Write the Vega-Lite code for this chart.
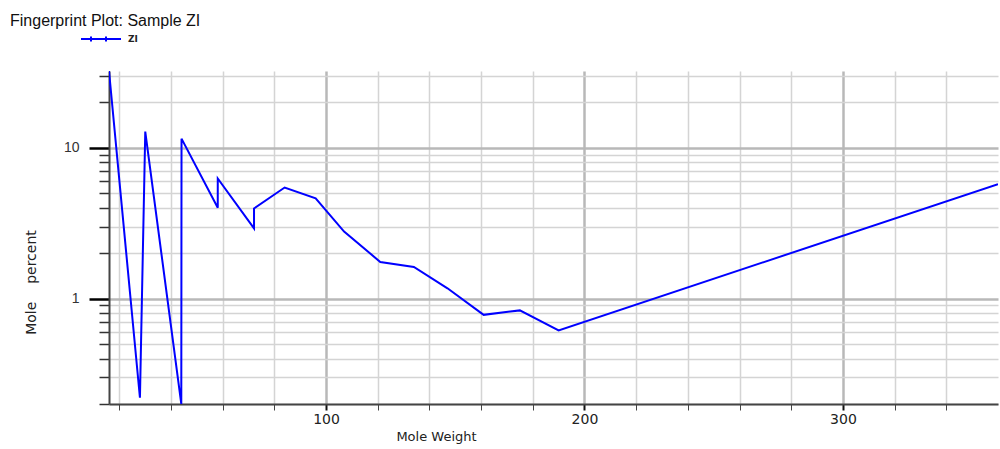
{
  "$schema": "https://vega.github.io/schema/vega-lite/v6.json",
  "autosize": {"type": "none"},
  "padding": {"left": 109, "top": 71, "right": 2, "bottom": 45},
  "width": 889,
  "height": 333,
  "background": "white",
  "title": {
    "text": "Fingerprint Plot: Sample ZI",
    "anchor": "start",
    "frame": "group",
    "orient": "top",
    "dx": -99,
    "dy": 24,
    "offset": 0,
    "baseline": "alphabetic",
    "font": "Liberation Sans",
    "fontSize": 16,
    "fontWeight": "normal",
    "color": "#111"
  },
  "data": {
    "values": [
      {"i": 1, "mw": 16.04, "pct": 32.3, "series": "ZI"},
      {"i": 2, "mw": 28.01, "pct": 0.22, "series": "ZI"},
      {"i": 3, "mw": 30.07, "pct": 12.8, "series": "ZI"},
      {"i": 4, "mw": 44.01, "pct": 0.2, "series": "ZI"},
      {"i": 5, "mw": 44.1, "pct": 11.5, "series": "ZI"},
      {"i": 6, "mw": 58.12, "pct": 4.0, "series": "ZI"},
      {"i": 7, "mw": 58.12, "pct": 6.26, "series": "ZI"},
      {"i": 8, "mw": 72.15, "pct": 2.92, "series": "ZI"},
      {"i": 9, "mw": 72.15, "pct": 3.96, "series": "ZI"},
      {"i": 10, "mw": 84, "pct": 5.45, "series": "ZI"},
      {"i": 11, "mw": 96, "pct": 4.62, "series": "ZI"},
      {"i": 12, "mw": 107, "pct": 2.78, "series": "ZI"},
      {"i": 13, "mw": 121, "pct": 1.75, "series": "ZI"},
      {"i": 14, "mw": 134, "pct": 1.62, "series": "ZI"},
      {"i": 15, "mw": 147, "pct": 1.17, "series": "ZI"},
      {"i": 16, "mw": 161, "pct": 0.78, "series": "ZI"},
      {"i": 17, "mw": 175, "pct": 0.835, "series": "ZI"},
      {"i": 18, "mw": 190, "pct": 0.615, "series": "ZI"},
      {"i": 19, "mw": 360, "pct": 5.74, "series": "ZI"}
    ]
  },
  "mark": {"type": "line", "strokeWidth": 2, "clip": true},
  "encoding": {
    "x": {
      "field": "mw",
      "type": "quantitative",
      "scale": {"domain": [16.04, 360], "nice": false, "zero": false},
      "axis": {
        "title": "Mole Weight",
        "titleX": 327,
        "titleY": 32,
        "titleAlign": "center",
        "titleBaseline": "middle",
        "titleFont": "DejaVu Sans",
        "titleFontSize": 13,
        "titleFontWeight": "normal",
        "titleColor": "#222",
        "values": [20, 40, 60, 80, 100, 120, 140, 160, 180, 200, 220, 240, 260, 280, 300, 320, 340],
        "labelExpr": "datum.value % 100 === 0 ? datum.value + '' : ''",
        "labelOverlap": false,
        "labelFlush": false,
        "labelFont": "DejaVu Sans",
        "labelFontSize": 14,
        "labelColor": "#222",
        "labelPadding": 2,
        "tickSize": 6,
        "tickColor": {"condition": {"test": "datum.value % 100 === 0", "value": "#111"}, "value": "#444"},
        "tickWidth": {"condition": {"test": "datum.value % 100 === 0", "value": 2}, "value": 1},
        "domainColor": "#444",
        "domainWidth": 2,
        "grid": true,
        "gridColor": {"condition": {"test": "datum.value % 100 === 0", "value": "#b8b8b8"}, "value": "#d4d4d4"},
        "gridWidth": {"condition": {"test": "datum.value % 100 === 0", "value": 2.5}, "value": 1.5}
      }
    },
    "y": {
      "field": "pct",
      "type": "quantitative",
      "scale": {"type": "log", "domain": [0.2, 32.3], "nice": false},
      "axis": {
        "title": "Mole\u00a0\u00a0\u00a0\u00a0percent",
        "titleX": -78,
        "titleY": 211,
        "titleAngle": 270,
        "titleAlign": "center",
        "titleBaseline": "middle",
        "titleFont": "DejaVu Sans",
        "titleFontSize": 14,
        "titleFontWeight": "normal",
        "titleColor": "#222",
        "values": [0.2, 0.3, 0.4, 0.5, 0.6, 0.7, 0.8, 0.9, 1, 2, 3, 4, 5, 6, 7, 8, 9, 10, 20, 30],
        "labelExpr": "datum.value === 1 || datum.value === 10 ? datum.value + '' : ''",
        "labelOverlap": false,
        "labelFlush": false,
        "labelFont": "Liberation Sans",
        "labelFontSize": 14,
        "labelColor": "#333",
        "labelPadding": 10,
        "tickSize": {"condition": {"test": "datum.value === 1 || datum.value === 10", "value": 20}, "value": 10},
        "tickColor": {"condition": {"test": "datum.value === 1 || datum.value === 10", "value": "#000"}, "value": "#333"},
        "tickWidth": {"condition": {"test": "datum.value === 1 || datum.value === 10", "value": 2.5}, "value": 1.5},
        "domainColor": "#444",
        "domainWidth": 2,
        "grid": true,
        "gridColor": {"condition": {"test": "datum.value === 1 || datum.value === 10", "value": "#b8b8b8"}, "value": "#d4d4d4"},
        "gridWidth": {"condition": {"test": "datum.value === 1 || datum.value === 10", "value": 2.5}, "value": 1.5}
      }
    },
    "order": {"field": "i", "type": "quantitative"},
    "color": {
      "field": "series",
      "type": "nominal",
      "scale": {"range": ["#0000ff"]},
      "legend": {
        "title": null,
        "orient": "none",
        "legendX": -29,
        "legendY": -53,
        "padding": 0,
        "symbolType": "M-1,0H1M-0.5,-0.12V0.12M0.25,-0.12V0.12",
        "symbolSize": 1600,
        "symbolStrokeWidth": 2,
        "symbolFillColor": "transparent",
        "labelFont": "DejaVu Sans",
        "labelFontSize": 9,
        "labelFontWeight": "bold",
        "labelColor": "#222",
        "labelOffset": 6
      }
    }
  },
  "config": {"view": {"stroke": null}}
}
